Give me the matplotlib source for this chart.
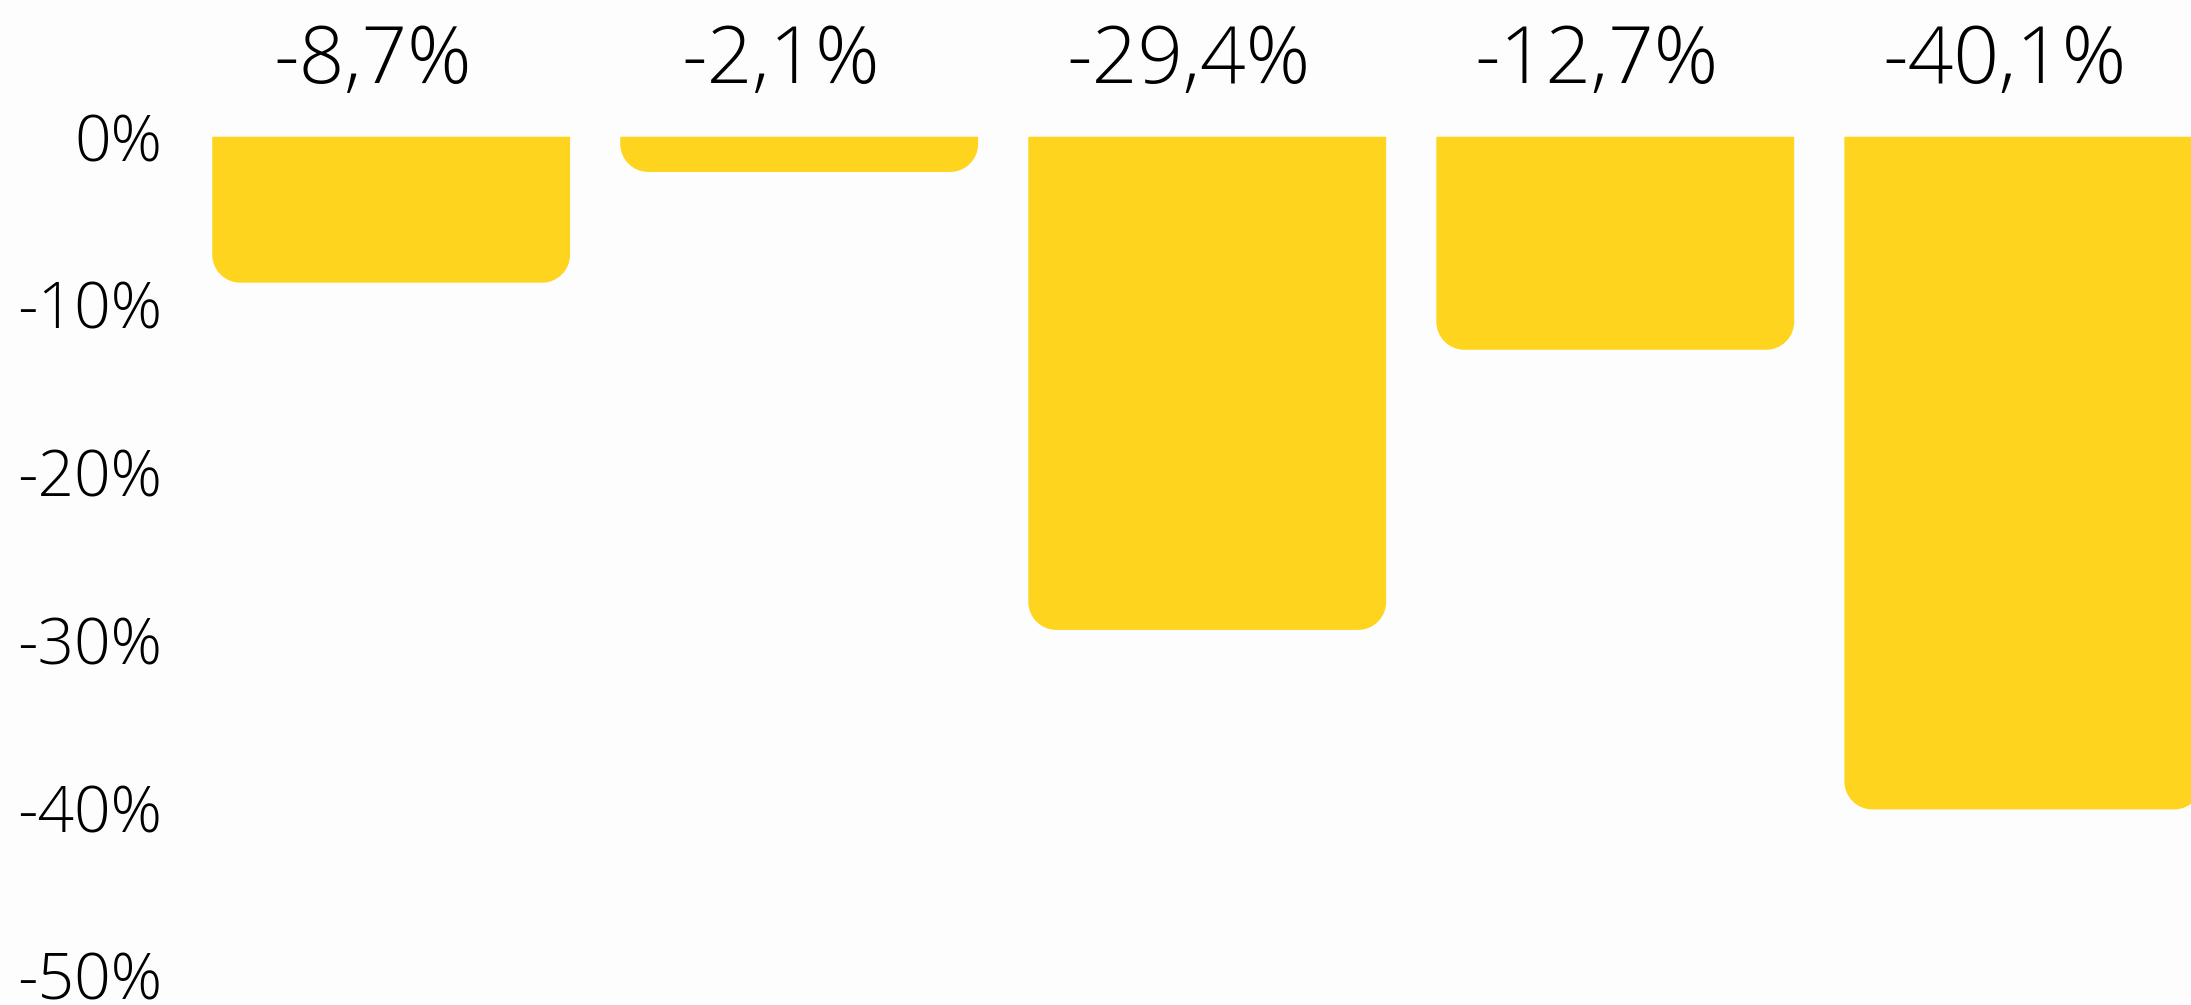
import numpy as np
import matplotlib
matplotlib.use("Agg")
import matplotlib.pyplot as plt
from matplotlib.path import Path
from matplotlib.patches import PathPatch


categories = ["A", "B", "C", "D", "E"]
values = [-8.7, -2.1, -29.4, -12.7, -40.1]
value_labels = ["-8,7%", "-2,1%", "-29,4%", "-12,7%", "-40,1%"]
y_ticks = [0, -10, -20, -30, -40, -50]
y_tick_labels = ["0%", "-10%", "-20%", "-30%", "-40%", "-50%"]

BAR_COLOR = "#FFD41E"
BG_COLOR = "#FDFDFD"
FONT = "Open Sans"


def rounded_bottom_path(x0, width, height, rx, ry):
    """Bar hanging down from 0 with rounded bottom corners (elliptical in data units)."""
    k = 0.5523
    x1 = x0 + width
    yb = height  # negative
    ry = min(ry, abs(height))
    verts = [
        (x0, 0),
        (x0, yb + ry),
        (x0, yb + ry * (1 - k)), (x0 + rx * (1 - k), yb), (x0 + rx, yb),
        (x1 - rx, yb),
        (x1 - rx * (1 - k), yb), (x1, yb + ry * (1 - k)), (x1, yb + ry),
        (x1, 0),
        (x0, 0),
    ]
    codes = [Path.MOVETO, Path.LINETO,
             Path.CURVE4, Path.CURVE4, Path.CURVE4,
             Path.LINETO,
             Path.CURVE4, Path.CURVE4, Path.CURVE4,
             Path.LINETO, Path.CLOSEPOLY]
    return Path(verts, codes)


fig = plt.figure(figsize=(21.91, 10.05), dpi=100, facecolor=BG_COLOR)
left = 190 / 2191
ax = fig.add_axes([left, 0, 1 - left, 1])
ax.set_facecolor(BG_COLOR)

x = np.arange(len(categories))
bars = ax.bar(x, values, width=0.877, color=BAR_COLOR)

ax.set_xlim(-0.493, 4.411)
ax.set_ylim(-51.76, 8.15)

# px -> data units for a ~28px corner radius
rx = 28 / 408
ry = 28 / 16.8
for rect in bars:
    rect.set_visible(False)
    p = rounded_bottom_path(rect.get_x(), rect.get_width(), rect.get_height(), rx, ry)
    ax.add_patch(PathPatch(p, facecolor=BAR_COLOR, edgecolor="none"))

for xi, lab in zip(x, value_labels):
    ax.text(xi - 0.045, 3.21, lab, ha="center", va="baseline",
            fontsize=57.5, family=FONT, fontweight="light", color="black")

ax.set_xticks([])
ax.set_yticks(y_ticks)
ax.set_yticklabels(y_tick_labels, fontsize=46, family=FONT, fontweight="light",
                   va="center_baseline")
ax.tick_params(axis="y", length=0, pad=20)
for s in ax.spines.values():
    s.set_visible(False)

fig.savefig("out.png", dpi=100, facecolor=BG_COLOR)
